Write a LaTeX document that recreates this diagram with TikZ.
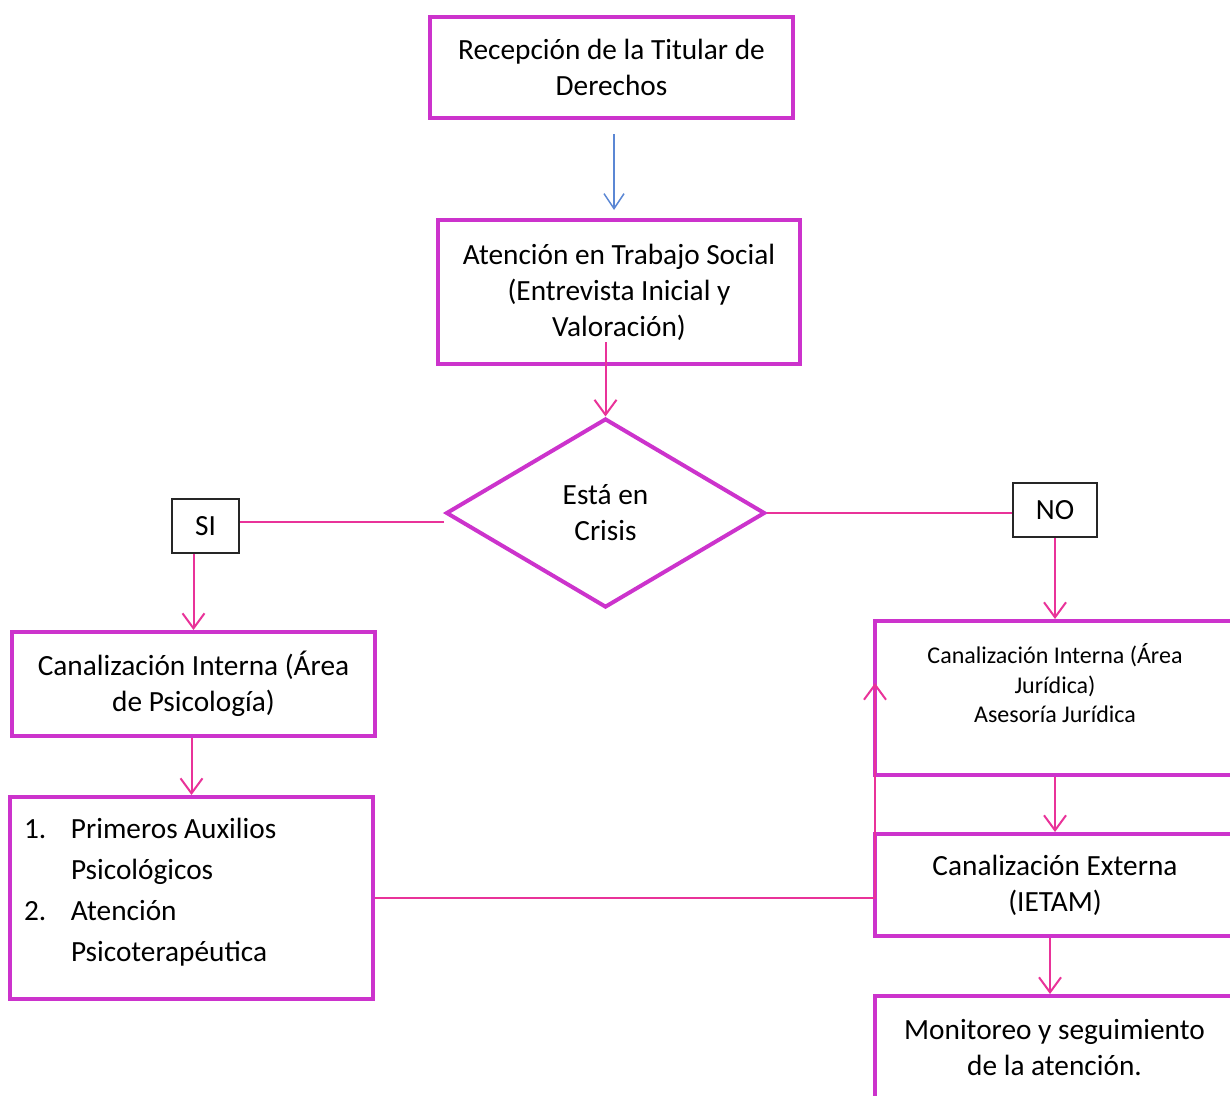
\documentclass[tikz,border=0pt]{standalone}
\usepackage{fontspec}
\setmainfont{Carlito}
\usetikzlibrary{shapes.geometric,arrows.meta}

\definecolor{boxmag}{RGB}{204,51,204}
\definecolor{linkpink}{RGB}{233,51,153}
\definecolor{linkblue}{RGB}{91,135,212}

\tikzset{
  stepbox/.style={draw=boxmag, line width=4pt, rectangle, align=center, inner sep=0pt,
    font=\fontsize{29.3pt}{36pt}\selectfont},
  decision/.style={diamond, draw=boxmag, line width=4pt, align=center, inner sep=0pt,
    minimum width=319pt, minimum height=189pt, font=\fontsize{29.3pt}{36pt}\selectfont},
  answer/.style={draw=black!85, line width=1.5pt, rectangle, inner sep=0pt,
    minimum height=54pt, font=\fontsize{29.3pt}{36pt}\selectfont},
  link/.style={draw=linkpink, line width=2pt},
  arrow/.style={link, -{Straight Barb[length=15pt,width=22pt]}},
  bluearrow/.style={draw=linkblue, line width=1.5pt, -{Straight Barb[length=15pt,width=20pt]}}
}

\begin{document}
\begin{tikzpicture}[x=1pt, y=-1pt]
  \useasboundingbox (0,0) rectangle (1230,1095);
  \clip (0,0) rectangle (1230,1095);

  % Central column
  \node[stepbox, minimum width=363pt, minimum height=101pt] (rec) at (611.5,67.5)
    {Recepción de la Titular de\\Derechos};
  \node[stepbox, minimum width=362pt, minimum height=144pt] (ate) at (619,292)
    {Atención en Trabajo Social\\(Entrevista Inicial y\\Valoración)};
  \node[decision] (crisis) at (605.5,513) {Está en\\Crisis};

  % Answers
  \node[answer, minimum width=67pt] (si) at (205.5,526) {SI};
  \node[answer, minimum width=84pt] (no) at (1055,510) {NO};

  % Left branch
  \node[stepbox, minimum width=363pt, minimum height=104pt] (psi) at (193.5,684)
    {Canalización Interna (Área\\de Psicología)};
  \node[stepbox, minimum width=363pt, minimum height=202pt, text width=335pt, align=left,
    font=\fontsize{29.3pt}{41pt}\selectfont] (aux) at (191.5,898)
    {\makebox[47pt][l]{1.}Primeros\hspace{0.22em}Auxilios\\
     \hspace*{47pt}Psicológicos\\
     \makebox[47pt][l]{2.}Atención\\
     \hspace*{47pt}Psicoterapéutica\\[-25pt]\mbox{}};

  % Right branch
  \node[stepbox, minimum width=360pt, minimum height=154pt,
    font=\fontsize{24pt}{29.5pt}\selectfont] (jur) at (1055,698)
    {Canalización Interna (Área\\Jurídica)\\Asesoría Jurídica\\\mbox{}};
  \node[stepbox, minimum width=360pt, minimum height=102pt] (ext) at (1055,885)
    {Canalización Externa\\(IETAM)};
  \node[stepbox, minimum width=360pt, minimum height=104pt] (mon) at (1054.5,1048)
    {Monitoreo y seguimiento\\de la atención.};

  % Connectors
  \draw[bluearrow, shorten <=14pt, shorten >=8pt] ([xshift=2.5pt]rec.south) -- ([xshift=2.5pt]rec.south |- ate.north);
  \draw[arrow] ([yshift=24pt]crisis.north |- ate.south) -- (crisis.north);
  \draw[link] ([yshift=-9pt]crisis.west) -- ([yshift=-9pt]crisis.west -| si.east);
  \draw[link] (crisis.east) -- (crisis.east -| no.west);
  \draw[arrow] (si.south -| psi.north) -- (psi.north);
  \draw[arrow] (psi.south -| aux.north) -- (aux.north);
  \draw[arrow] (no.south) -- (no.south |- jur.north);
  \draw[arrow] (jur.south) -- (ext.north);
  \draw[arrow] ([xshift=-5pt]ext.south) -- ([xshift=-5pt]ext.south |- mon.north);
  \draw[arrow] (aux.east) -| ([xshift=2pt,yshift=15pt]jur.west);
\end{tikzpicture}
\end{document}
